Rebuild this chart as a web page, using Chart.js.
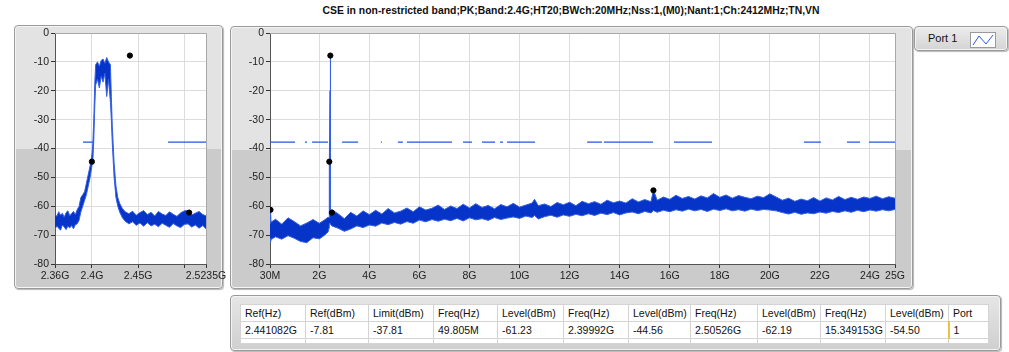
<!DOCTYPE html>
<html>
<head>
<meta charset="utf-8">
<script src="https://cdn.jsdelivr.net/npm/chart.js@4.4.1/dist/chart.umd.min.js"></script>
<style>
    body { margin: 0; width: 1009px; height: 352px; background: #fff; position: relative; overflow: hidden;
           font-family: "Liberation Sans", Arial, sans-serif; color: #111; }
    .panel { position: absolute; box-sizing: border-box; border: 1px solid #9a9a9a; border-radius: 4px;
             background: linear-gradient(to bottom, #e3e3e3 0, #e3e3e3 47%, #cbcbcb 47%, #cbcbcb 100%);
             box-shadow: inset 0 0 0 1px #f4f4f4, 1px 1px 1px #b8b8b8; }
    #title { position: absolute; top: 4px; left: 571px; transform: translateX(-50%); white-space: nowrap;
             font-size: 10.4px; font-weight: bold; line-height: 14px; }
    canvas { position: absolute; }
    #legend { left: 914px; top: 26px; width: 94px; height: 25px;
              background: linear-gradient(to bottom, #ececec, #d4d4d4); }
    #legend span { position: absolute; left: 13px; top: 5px; font-size: 11px; }
    #legend svg { position: absolute; left: 55px; top: 5px; }
    #tablePanel { left: 230px; top: 295px; width: 771px; height: 56px; background: linear-gradient(to bottom, #e6e6e6, #cfcfcf); }
    table { position: absolute; left: 9px; top: 8px; border-collapse: collapse; background: #fff; font-size: 10.5px; table-layout: fixed; }
    td { border: 1px solid #d4d4d4; padding: 0 0 0 4px; height: 16px; line-height: 15px; white-space: nowrap; overflow: hidden; }
    tr.stub td { height: 4px; }
</style>
</head>
<body>
<div id="title">CSE in non-restricted band;PK;Band:2.4G;HT20;BWch:20MHz;Nss:1,(M0);Nant:1;Ch:2412MHz;TN,VN</div>
<div class="panel" style="left:14px;top:25px;width:209px;height:264px;"></div>
<div class="panel" style="left:230px;top:26px;width:683px;height:263px;"></div>
<div class="panel" id="legend"><span>Port 1</span>
    <svg width="26" height="16"><rect x="0.5" y="0.5" width="25" height="15" fill="#fff" stroke="#9a9a9a"/>
    <polyline points="3,13 9,4 16,12 23,3" fill="none" stroke="#2b5be0" stroke-width="1"/></svg>
</div>
<div class="panel" id="tablePanel"><table id="markerTable"></table></div>
<canvas id="leftChart" width="232" height="265" style="left:0;top:25px;"></canvas>
<canvas id="rightChart" width="700" height="265" style="left:226px;top:25px;"></canvas>

<script>
// level axis
const yMin = -80;
const yMax = 0;

// left (zoomed) view, frequencies in GHz
const leftTickPos = [2.36, 2.4, 2.45, 2.5, 2.5235];
const leftTickLabels = ["2.36G", "2.4G", "2.45G", "", "2.5235G"];
const leftFreq = [
    2.360, 2.362, 2.364, 2.366, 2.368, 2.370, 2.372, 2.374, 2.376, 2.378, 2.380, 2.382, 2.384, 2.386,
    2.388, 2.390, 2.392, 2.394, 2.396, 2.398, 2.400, 2.401, 2.402, 2.403, 2.404, 2.406, 2.408, 2.410, 2.412, 2.414,
    2.416, 2.418, 2.420, 2.421, 2.422, 2.424, 2.426, 2.428, 2.430, 2.433, 2.436, 2.440, 2.444, 2.448, 2.452, 2.456,
    2.460, 2.464, 2.468, 2.472, 2.476, 2.480, 2.484, 2.488, 2.492, 2.496, 2.500, 2.504, 2.508, 2.512, 2.516, 2.520, 2.5235];
const leftHi = [
    -62.8, -63.5, -61.9, -63.1, -62.4, -63.8, -62.2, -61.6, -63.3, -62.5, -61.8, -62.9, -61.2, -60.1,
    -57, -56, -55, -52, -49, -46, -42, -38, -30, -18, -11, -10, -11.5, -9.5, -9, -10.5,
    -8.5, -10, -11, -22, -32, -45, -53, -57, -59, -60.8, -61.9, -62.6, -61.7, -63.1, -62.2, -61.5,
    -62.9, -62.1, -63.4, -61.8, -62.7, -63.2, -61.9, -62.8, -63.5, -62.3, -61.6, -61.5, -63.0, -62.4, -61.8, -62.9, -63.3];
const leftLo = [
    -67.9, -66.8, -67.6, -68.3, -66.5, -67.2, -68.1, -66.9, -67.5, -66.7, -67.8, -66.4, -66.1, -64.9,
    -62, -60, -58, -56, -53, -50, -46, -44, -37, -26, -18, -16, -19, -15, -17, -14,
    -22, -16, -24, -30, -38, -50, -57, -60, -62, -64, -65.2, -66.1, -65.4, -66.6, -65.8, -66.9,
    -65.7, -66.8, -66.2, -67.1, -65.9, -66.6, -67.3, -66.0, -66.8, -67.4, -66.3, -66.1, -67.2, -66.5, -67.6, -66.7, -67.8];
const leftLimitSegs = [[2.3903, 2.4011], [2.4824, 2.5235]];

// right (full span) view, frequencies in GHz
const rightTickPos = [0.03, 2, 4, 6, 8, 10, 12, 14, 16, 18, 20, 22, 24, 25];
const rightTickLabels = ["30M", "2G", "4G", "6G", "8G", "10G", "12G", "14G", "16G", "18G", "20G", "22G", "24G", "25G"];
const rightFreq = [
    0.03, 0.05, 0.07, 0.25, 0.5, 0.75, 1.0, 1.25, 1.5, 1.75, 2.0, 2.2, 2.35, 2.39, 2.40, 2.43, 2.441, 2.45, 2.5,
    2.75, 3.0, 3.25, 3.5, 3.75, 4.0, 4.25, 4.5, 4.75, 5.0, 5.25, 5.5, 5.75, 6.0, 6.25, 6.5, 6.75, 7.0, 7.25, 7.5, 7.75,
    8.0, 8.25, 8.5, 8.75, 9.0, 9.25, 9.5, 9.75, 10.0, 10.25, 10.5, 10.6, 10.75, 11.0, 11.25, 11.5, 11.75, 12.0, 12.25,
    12.5, 12.75, 13.0, 13.25, 13.5, 13.75, 14.0, 14.25, 14.5, 14.75, 15.0, 15.25, 15.35, 15.5, 15.75, 16.0, 16.25,
    16.5, 16.75, 17.0, 17.25, 17.5, 17.75, 18.0, 18.25, 18.5, 18.75, 19.0, 19.25, 19.5, 19.75, 20.0, 20.25, 20.5,
    20.75, 21.0, 21.25, 21.5, 21.75, 22.0, 22.25, 22.5, 22.75, 23.0, 23.25, 23.5, 23.75, 24.0, 24.25, 24.5, 24.75, 25.0];
const rightHi = [
    -66, -61.23, -65.5, -64.5, -66.2, -64, -65.3, -66.8, -65.8, -64.6, -65.9, -64.8, -63.8, -64, -45, -20, -7.81, -62, -61.2,
    -62.6, -64.3, -62.1, -63.4, -61.6, -62.9, -61.4, -62.7, -60.8, -62.3, -61.7, -60.6, -61.9, -60.2, -61.3, -60.7, -59.6, -61.1, -59.9, -60.8, -59.3,
    -60.6, -59.1, -60.4, -59.7, -60.9, -59.4, -60.2, -59.0, -60.3, -59.6, -58.9, -57.6, -59.8, -59.2, -60.1, -58.7, -59.5, -58.6, -59.8,
    -58.3, -59.1, -58.4, -59.3, -57.9, -58.8, -58.2, -58.9, -57.4, -58.5, -57.7, -58.4, -54.5, -57.9, -56.8, -57.6, -56.2,
    -57.3, -56.6, -57.5, -56.4, -57.1, -55.6, -56.9, -56.1, -57.2, -56.3, -56.9, -57.4, -56.5, -57.0, -55.7, -56.8, -57.9,
    -57.2, -58.3, -57.5, -58.1, -57.0, -58.2, -57.1, -57.8, -56.6, -57.7, -56.9, -57.6, -56.8, -57.3, -56.5, -57.4, -56.7, -57.2];
const rightLo = [
    -71, -72.5, -71.5, -70.6, -71.4, -70.2, -71.1, -72.2, -72.6, -70.9, -71.3, -70.1, -68.9, -67.5, -66, -66, -66, -66.2, -66.8,
    -67.6, -68.7, -67.9, -66.8, -67.4, -66.5, -66.9, -65.8, -66.4, -65.6, -66.2, -65.3, -65.9, -64.8, -65.4, -64.6, -65.2, -64.5, -65.0, -64.2, -65.1,
    -64.0, -64.7, -64.3, -64.9, -63.9, -64.6, -64.1, -63.7, -64.2, -63.4, -63.9, -63.2, -64.4, -63.6, -63.1, -63.8, -63.0, -63.5, -62.8,
    -63.3, -62.6, -63.2, -62.4, -62.9, -62.2, -63.0, -62.3, -62.0, -62.6, -61.8, -62.3, -61.5, -62.1, -61.4, -61.9, -61.2,
    -61.7, -61.0, -61.6, -61.1, -61.8, -61.0, -61.5, -60.9, -61.6, -61.2, -61.7, -61.0, -61.5, -61.1, -61.3, -61.6, -62.2,
    -62.7, -62.1, -62.8, -62.3, -62.6, -62.0, -62.4, -61.8, -62.2, -61.6, -62.1, -61.4, -61.9, -61.3, -61.7, -61.2, -61.6, -61.1];
const rightLimitSegs = [[0.03, 1.03], [1.43, 1.51], [1.71, 2.35], [2.91, 3.55], [4.46, 4.50], [5.14, 5.34],
    [5.50, 7.30], [7.74, 8.10], [8.50, 9.02], [9.22, 9.34], [9.50, 10.62], [12.70, 13.29], [13.37, 15.33],
    [16.17, 17.69], [21.36, 22.04], [23.08, 23.60], [23.96, 25.0]];

// marker table
const refFreqHz = "2.441082G";
const refFreq = 2.441082;
const refLevel = -7.81;
const limitLevel = -37.81;
const markerFreqLabels = ["49.805M", "2.39992G", "2.50526G", "15.349153G"];
const markerFreq = [0.049805, 2.39992, 2.50526, 15.349153];
const markerLevel = [-61.23, -44.56, -62.19, -54.50];
const portNo = "1";

const traceFill = "#0633c8";
const traceEdge = "#3562e3";
const limitColor = "#2255e6";

const xy = (xs, ys) => xs.map((x, i) => ({ x: x, y: ys[i] }));
const limitPoints = (segs) => {
    const pts = [];
    segs.forEach(([a, b]) => pts.push({ x: a, y: limitLevel }, { x: b, y: limitLevel }, { x: b, y: null }));
    return pts;
};

// white plot background + light frame on top/right
const plotBg = {
    id: "plotBg",
    beforeDraw(chart) {
        const a = chart.chartArea;
        chart.ctx.save();
        chart.ctx.fillStyle = "#fff";
        chart.ctx.fillRect(a.left, a.top, a.right - a.left, a.bottom - a.top);
        chart.ctx.restore();
    },
    afterDraw(chart) {
        const a = chart.chartArea;
        const ctx = chart.ctx;
        ctx.save();
        ctx.strokeStyle = "#a8a8a8";
        ctx.lineWidth = 1;
        ctx.beginPath();
        ctx.moveTo(a.left, a.top + 0.5);
        ctx.lineTo(a.right + 0.5, a.top + 0.5);
        ctx.lineTo(a.right + 0.5, a.bottom);
        ctx.stroke();
        ctx.restore();
    }
};

const makeChart = (id, opts) => {
    return new Chart(document.getElementById(id), {
        type: "line",
        data: {
            datasets: [
                {
                    data: opts.markers,
                    showLine: false,
                    pointRadius: 2.6,
                    pointBackgroundColor: "#000",
                    pointBorderColor: "#000",
                },
                {
                    data: limitPoints(opts.limitSegs),
                    borderColor: limitColor,
                    borderWidth: 1.2,
                    pointRadius: 0,
                    spanGaps: false,
                },
                {
                    data: xy(opts.freq, opts.lo),
                    borderColor: traceEdge,
                    borderWidth: 1,
                    pointRadius: 0,
                    fill: false,
                },
                {
                    data: xy(opts.freq, opts.hi),
                    borderColor: traceEdge,
                    backgroundColor: traceFill,
                    borderWidth: 1,
                    pointRadius: 0,
                    fill: "-1",
                },
            ],
        },
        options: {
            animation: false,
            responsive: false,
            events: [],
            layout: { padding: { top: 8, right: opts.padRight, left: 0, bottom: 0 } },
            plugins: { legend: { display: false }, tooltip: { enabled: false } },
            scales: {
                x: {
                    type: "linear",
                    min: opts.min,
                    max: opts.max,
                    afterBuildTicks: (s) => { s.ticks = opts.tickPos.map((v) => ({ value: v })); },
                    afterFit: (s) => { s.height = 26; s.paddingLeft = 0; s.paddingRight = 0; },
                    ticks: {
                        autoSkip: false,
                        maxRotation: 0,
                        padding: 2,
                        color: "#222",
                        font: { family: "Liberation Sans", size: 10.5 },
                        callback: (v, i) => opts.tickLabels[i],
                    },
                    grid: { color: "#dcdcdc", tickColor: "#333", tickLength: 4 },
                    border: { color: "#555" },
                },
                y: {
                    min: yMin,
                    max: yMax,
                    afterFit: (s) => { s.width = opts.yWidth; s.paddingTop = 0; s.paddingBottom = 0; },
                    ticks: {
                        stepSize: 10,
                        padding: 2,
                        color: "#222",
                        font: { family: "Liberation Sans", size: 10.5 },
                    },
                    grid: { color: "#dcdcdc", tickColor: "#333", tickLength: 4 },
                    border: { color: "#555" },
                },
            },
        },
        plugins: [plotBg],
    });
};

document.addEventListener("DOMContentLoaded", () => {
    const allMarkers = [{ x: refFreq, y: refLevel }].concat(xy(markerFreq, markerLevel));

    makeChart("leftChart", {
        freq: leftFreq, hi: leftHi, lo: leftLo, limitSegs: leftLimitSegs,
        min: leftTickPos[0], max: leftTickPos[leftTickPos.length - 1],
        tickPos: leftTickPos, tickLabels: leftTickLabels,
        markers: allMarkers.filter((p) => p.x >= leftTickPos[0] && p.x <= leftTickPos[leftTickPos.length - 1]),
        yWidth: 55, padRight: 26,
    });

    makeChart("rightChart", {
        freq: rightFreq, hi: rightHi, lo: rightLo, limitSegs: rightLimitSegs,
        min: rightTickPos[0], max: rightTickPos[rightTickPos.length - 1],
        tickPos: rightTickPos, tickLabels: rightTickLabels,
        markers: allMarkers,
        yWidth: 44, padRight: 31,
    });

    // marker table
    const headers = ["Ref(Hz)", "Ref(dBm)", "Limit(dBm)"];
    const values = [refFreqHz, refLevel.toFixed(2), limitLevel.toFixed(2)];
    markerFreqLabels.forEach((f, i) => {
        headers.push("Freq(Hz)", "Level(dBm)");
        values.push(f, markerLevel[i].toFixed(2));
    });
    headers.push("Port");
    values.push(portNo);
    const widths = [65, 63, 65, 64, 66, 65, 62, 67, 63, 65, 63, 40];
    const table = document.getElementById("markerTable");
    let html = "<colgroup>" + widths.map((w) => `<col style="width:${w}px">`).join("") + "</colgroup>";
    html += "<tr>" + headers.map((h) => `<td>${h}</td>`).join("") + "</tr>";
    html += "<tr>" + values.map((v, i) => `<td${i === values.length - 1 ? ' style="border-left:2px solid #f0c040"' : ""}>${v}</td>`).join("") + "</tr>";
    html += '<tr class="stub">' + values.map(() => "<td></td>").join("") + "</tr>";
    table.innerHTML = html;
});
</script>
</body>
</html>
